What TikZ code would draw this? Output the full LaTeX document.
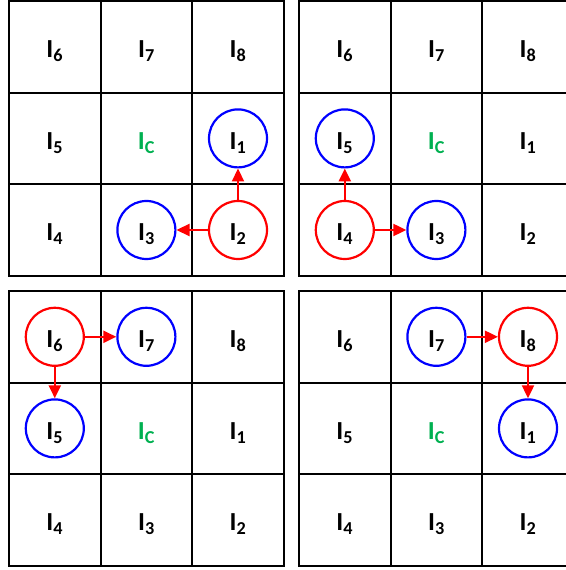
\documentclass[tikz,border=0pt]{standalone}
\usepackage{fontspec}
\setmainfont{Carlito}
\usepackage{xcolor}
\usetikzlibrary{arrows.meta,positioning}
\definecolor{icgreen}{RGB}{0,176,80}
\newcommand{\pix}[1]{I\textsubscript{#1}}
\tikzset{%
	cellbox/.style  = {draw, rectangle, line width=2pt, minimum size=91.6pt, inner sep=0pt, text height=22pt, text depth=0pt, font=\bfseries\fontsize{26}{30}\selectfont}, % pixel cell
	centre/.style   = {cellbox, text=icgreen}, % centre pixel
	nbr/.style      = {draw=blue, circle, line width=2.2pt, minimum size=58pt}, % neighbour
	src/.style      = {draw=red, circle, line width=2.2pt, minimum size=58pt}, % current pixel
	arrow/.style    = {draw=red, line width=2.2pt, -{Triangle[length=13pt,width=12pt]}, red},
}
\begin{document}
\begin{tikzpicture}[x=1pt,y=1pt,node distance=91.6pt]
	\useasboundingbox (0,0) rectangle (565,570);
	% top left grid
	\node [cellbox] (a6) at (54.8,523.2) {\pix{6}};
	\node [cellbox] (a7) [right of=a6] {\pix{7}};
	\node [cellbox] (a8) [right of=a7] {\pix{8}};
	\node [cellbox] (a5) [below of=a6] {\pix{5}};
	\node [centre] (ac) [right of=a5] {\pix{C}};
	\node [cellbox] (a1) [right of=ac] {\pix{1}};
	\node [cellbox] (a4) [below of=a5] {\pix{4}};
	\node [cellbox] (a3) [right of=a4] {\pix{3}};
	\node [cellbox] (a2) [right of=a3] {\pix{2}};
	% top right grid
	\node [cellbox] (b6) at (344.8,523.2) {\pix{6}};
	\node [cellbox] (b7) [right of=b6] {\pix{7}};
	\node [cellbox] (b8) [right of=b7] {\pix{8}};
	\node [cellbox] (b5) [below of=b6] {\pix{5}};
	\node [centre] (bc) [right of=b5] {\pix{C}};
	\node [cellbox] (b1) [right of=bc] {\pix{1}};
	\node [cellbox] (b4) [below of=b5] {\pix{4}};
	\node [cellbox] (b3) [right of=b4] {\pix{3}};
	\node [cellbox] (b2) [right of=b3] {\pix{2}};
	% bottom left grid
	\node [cellbox] (c6) at (54.8,233.2) {\pix{6}};
	\node [cellbox] (c7) [right of=c6] {\pix{7}};
	\node [cellbox] (c8) [right of=c7] {\pix{8}};
	\node [cellbox] (c5) [below of=c6] {\pix{5}};
	\node [centre] (cc) [right of=c5] {\pix{C}};
	\node [cellbox] (c1) [right of=cc] {\pix{1}};
	\node [cellbox] (c4) [below of=c5] {\pix{4}};
	\node [cellbox] (c3) [right of=c4] {\pix{3}};
	\node [cellbox] (c2) [right of=c3] {\pix{2}};
	% bottom right grid
	\node [cellbox] (d6) at (344.8,233.2) {\pix{6}};
	\node [cellbox] (d7) [right of=d6] {\pix{7}};
	\node [cellbox] (d8) [right of=d7] {\pix{8}};
	\node [cellbox] (d5) [below of=d6] {\pix{5}};
	\node [centre] (dc) [right of=d5] {\pix{C}};
	\node [cellbox] (d1) [right of=dc] {\pix{1}};
	\node [cellbox] (d4) [below of=d5] {\pix{4}};
	\node [cellbox] (d3) [right of=d4] {\pix{3}};
	\node [cellbox] (d2) [right of=d3] {\pix{2}};
	
	% rings
	\node [src] (a2r) at (a2) {};
	\node [nbr] (a1r) at (a1) {};
	\node [nbr] (a3r) at (a3) {};
	\node [src] (b4r) at (b4) {};
	\node [nbr] (b5r) at (b5) {};
	\node [nbr] (b3r) at (b3) {};
	\node [src] (c6r) at (c6) {};
	\node [nbr] (c7r) at (c7) {};
	\node [nbr] (c5r) at (c5) {};
	\node [src] (d8r) at (d8) {};
	\node [nbr] (d7r) at (d7) {};
	\node [nbr] (d1r) at (d1) {};
	
	\draw[arrow] (a2r) -- (a1r);
	\draw[arrow] (a2r) -- (a3r);
	\draw[arrow] (b4r) -- (b5r);
	\draw[arrow] (b4r) -- (b3r);
	\draw[arrow] (c6r) -- (c7r);
	\draw[arrow] (c6r) -- (c5r);
	\draw[arrow] (d7r) -- (d8r);
	\draw[arrow] (d8r) -- (d1r);
\end{tikzpicture}
\end{document}
